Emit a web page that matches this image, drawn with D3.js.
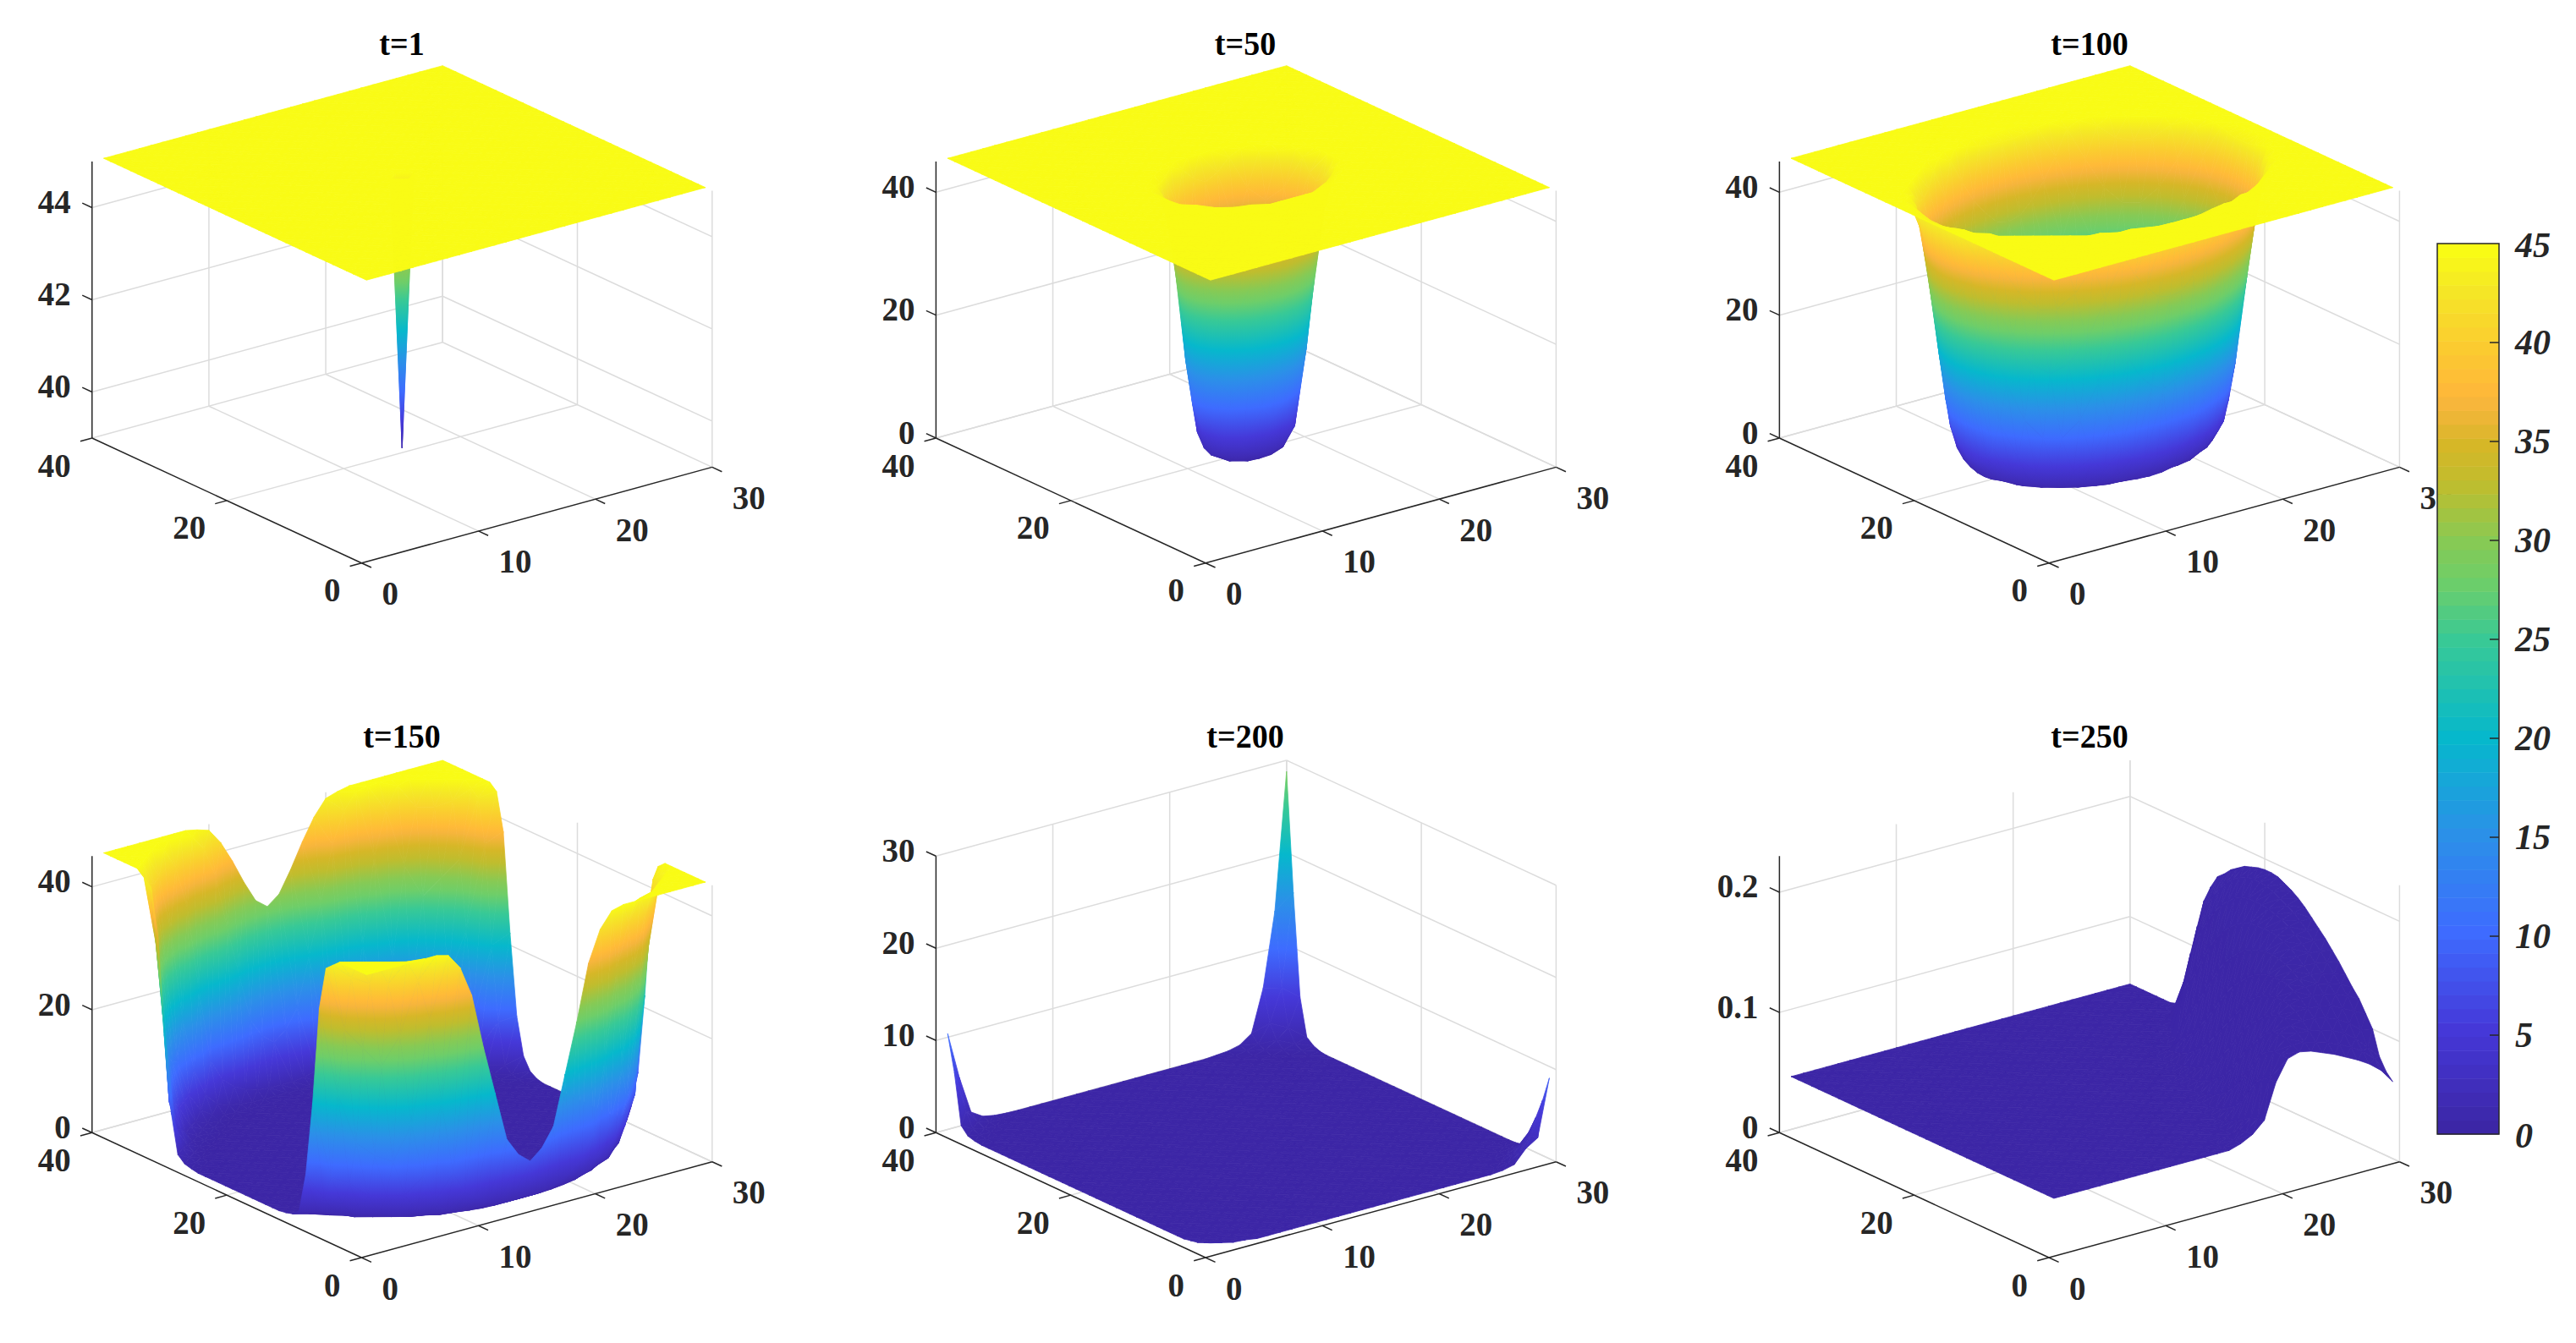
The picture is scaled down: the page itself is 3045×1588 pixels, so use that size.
<!DOCTYPE html>
<html>
<head>
<meta charset="utf-8">
<title>Surface panels</title>
<script src="https://cdn.jsdelivr.net/npm/d3@7"></script>
<style>
    html, body { margin: 0; padding: 0; background: #fff; }
    svg { display: block; }
    text { font-family: "Liberation Serif", serif; font-weight: bold; fill: #262626; }
</style>
</head>
<body>
<div id="chart"></div>
<script>
// Panels, left to right and top to bottom
const panelTitles = ["t=1", "t=50", "t=100", "t=150", "t=200", "t=250"];
const xTicks = [0, 10, 20, 30];
const yTicks = [0, 20, 40];
const zTicks = [[40, 42, 44], [0, 20, 40], [0, 20, 40], [0, 20, 40], [0, 10, 20, 30], [0, 0.1, 0.2]];
const zLimits = [[39, 45], [0, 45], [0, 45], [0, 45], [0, 30], [0, 0.23]];
const colorLimits = [[39, 45], [0, 45], [0, 45], [0, 45], [0, 45], [0, 45]];
const colorbarTicks = [0, 5, 10, 15, 20, 25, 30, 35, 40, 45];

// Grid nodes run over x = 1..30, y = 1..40
const gridX = d3.range(1, 31);
const gridY = d3.range(1, 41);

// t=1: flat sheet at 45 with one node pulled down, [x, y, z]
const t1Plateau = 45;
const t1Dips = [[15, 20, 39.1]];

// t=50, t=100, t=150: pit centred on node (15, 20), read as one quarter.
// Row = |y - 20|, column = |x - 15|, anything past the end of a row is the 45 sheet.
const t50Quarter = [
    [0.05, 0, 0.1, 1.2, 7.5, 26, 41],
    [0, 0.05, 0.2, 1.8, 9.5, 28, 42],
    [0.1, 0.2, 0.9, 3.8, 16, 33, 44],
    [1.2, 1.8, 3.8, 12, 26, 39, 44.9],
    [7.5, 9.5, 16, 26, 37, 44.5],
    [26, 28, 33, 39, 44.5],
    [41, 42, 44, 44.9]
];
const t100Quarter = [
    [0, 0, 0, 0, 0, 0, 0, 0, 0.3, 0.8, 4, 16, 31.5, 44],
    [0, 0, 0, 0, 0, 0, 0, 0, 0.3, 0.9, 4.4, 17, 32, 44],
    [0, 0, 0, 0, 0, 0, 0, 0.05, 0.4, 1.3, 5.5, 19, 34, 44.3],
    [0, 0, 0, 0, 0, 0, 0, 0.15, 0.5, 2, 7.5, 22.5, 36.5, 44.7],
    [0, 0, 0, 0, 0, 0, 0.05, 0.3, 0.8, 3.4, 12, 27, 40],
    [0, 0, 0, 0, 0, 0, 0.2, 0.55, 1.8, 6.4, 19, 33, 44],
    [0, 0, 0, 0, 0.05, 0.2, 0.5, 1.3, 4, 13, 26.5, 39, 44.9],
    [0, 0, 0.05, 0.15, 0.3, 0.55, 1.3, 3.6, 10, 22.5, 34.5, 44],
    [0.3, 0.3, 0.4, 0.5, 0.8, 1.8, 4, 10, 21, 32, 42],
    [0.8, 0.9, 1.3, 2, 3.4, 6.4, 13, 22.5, 32, 41.5],
    [4, 4.4, 5.5, 7.5, 12, 19, 26.5, 34.5, 42],
    [16, 17, 19, 22.5, 27, 33, 39, 44],
    [31.5, 32, 34, 36.5, 40, 44, 44.9],
    [44, 44, 44.3, 44.7]
];
const t150Quarter = [
    [0, 0, 0, 0, 0, 0, 0, 0, 0, 0, 0, 0, 0, 0, 0, 0],
    [0, 0, 0, 0, 0, 0, 0, 0, 0, 0, 0, 0, 0, 0, 0, 0],
    [0, 0, 0, 0, 0, 0, 0, 0, 0, 0, 0, 0, 0, 0, 0, 0],
    [0, 0, 0, 0, 0, 0, 0, 0, 0, 0, 0, 0, 0, 0, 0, 0],
    [0, 0, 0, 0, 0, 0, 0, 0, 0, 0, 0, 0, 0, 0, 0, 0],
    [0, 0, 0, 0, 0, 0, 0, 0, 0, 0, 0, 0, 0, 0, 0, 0],
    [0, 0, 0, 0, 0, 0, 0, 0, 0, 0, 0, 0, 0, 0, 0, 0.3],
    [0, 0, 0, 0, 0, 0, 0, 0, 0, 0, 0, 0, 0, 0, 0.2, 1],
    [0, 0, 0, 0, 0, 0, 0, 0, 0, 0, 0, 0, 0, 0.2, 0.5, 3],
    [0, 0, 0, 0, 0, 0, 0, 0, 0, 0, 0, 0, 0, 0.5, 1.5, 9],
    [0, 0, 0, 0, 0, 0, 0, 0, 0, 0, 0, 0, 0.3, 1.5, 8, 22],
    [0, 0, 0, 0, 0, 0, 0, 0, 0, 0, 0, 0.2, 1, 4, 20, 38],
    [0, 0, 0, 0, 0, 0, 0, 0, 0, 0, 0.2, 0.5, 3, 8, 36, 44],
    [0, 0, 0, 0, 0, 0, 0, 0, 0, 0.2, 0.5, 1.5, 7, 22, 43],
    [0, 0, 0, 0, 0, 0, 0, 0, 0.2, 0.5, 1.5, 5, 14, 33, 44],
    [0, 0, 0, 0, 0, 0, 0, 0.2, 0.5, 1.2, 5, 12, 30, 42],
    [0.1, 0.1, 0.1, 0.1, 0.1, 0.1, 0.3, 0.8, 2, 5, 11, 27, 41],
    [0.2, 0.2, 0.2, 0.3, 0.5, 0.8, 1.5, 3.5, 8, 17, 32, 41],
    [1, 1, 1.2, 1.8, 2.8, 4.5, 8, 20, 34, 41, 44.5],
    [7.4, 9, 12, 20, 28, 37, 42, 44.5],
    [29, 30.5, 34, 38, 41.5, 44, 44.6]
];

// t=200: floor at 0 with spikes in the corners, [x, y, z]
const t200Floor = 0;
const t200Nodes = [
    // back corner
    [30, 40, 28.8], [29, 40, 14], [28, 40, 6], [27, 40, 1.4], [26, 40, 0.5], [25, 40, 0.2], [24, 40, 0.1],
    [30, 39, 16], [29, 39, 6], [28, 39, 2.5], [27, 39, 0.6], [26, 39, 0.2],
    [30, 38, 5], [29, 38, 2], [28, 38, 1], [27, 38, 0.3],
    [30, 37, 1], [29, 37, 0.6], [28, 37, 0.3], [30, 36, 0.4], [29, 36, 0.2], [30, 35, 0.1],
    // left corner
    [1, 40, 10.4], [2, 40, 5.3], [3, 40, 1.2], [4, 40, 0.4], [5, 40, 0.15], [6, 40, 0.05],
    [1, 39, 6.5], [2, 39, 2], [3, 39, 0.5], [4, 39, 0.1],
    [1, 38, 1.1], [2, 38, 0.4], [3, 38, 0.1], [1, 37, 0.3], [2, 37, 0.1], [1, 36, 0.1],
    // right corner
    [30, 1, 8.75], [29, 1, 2.6], [28, 1, 1.8], [27, 1, 0.4], [26, 1, 0.1],
    [30, 2, 6], [29, 2, 2.5], [28, 2, 1], [27, 2, 0.2],
    [30, 3, 3.8], [29, 3, 1.5], [28, 3, 0.5], [30, 4, 1.9], [29, 4, 0.6], [28, 4, 0.1],
    [30, 5, 0.2], [29, 5, 0.1], [30, 6, 0.05],
    // front corner
    [1, 1, 0.9], [2, 1, 0.6], [1, 2, 0.6], [3, 1, 0.3], [1, 3, 0.3], [2, 2, 0.3], [4, 1, 0.2], [1, 4, 0.15]
];

// t=250: sheet at 0.044 with a ridge along x = 30.
// One row per y from 1 up, values right aligned so the last one is x = 30.
const t250Sheet = 0.044;
const t250Rows = [
    [0.047, 0.052, 0.061, 0.09, 0.107, 0.11, 0.108, 0.104, 0.1, 0.095, 0.09, 0.084, 0.076, 0.064],
    [0.047, 0.052, 0.06, 0.09, 0.108, 0.113, 0.113, 0.11, 0.107, 0.103, 0.098, 0.092, 0.083, 0.07],
    [0.047, 0.05, 0.058, 0.088, 0.108, 0.116, 0.118, 0.117, 0.115, 0.112, 0.107, 0.1, 0.09, 0.08],
    [0.054, 0.082, 0.105, 0.118, 0.122, 0.123, 0.122, 0.12, 0.116, 0.11, 0.102, 0.1],
    [0.05, 0.072, 0.1, 0.116, 0.125, 0.128, 0.128, 0.127, 0.125, 0.12, 0.115, 0.11],
    [0.047, 0.062, 0.09, 0.112, 0.125, 0.131, 0.133, 0.133, 0.132, 0.129, 0.125, 0.12],
    [0.045, 0.055, 0.08, 0.105, 0.122, 0.132, 0.137, 0.138, 0.138, 0.135, 0.132, 0.127],
    [0.05, 0.07, 0.098, 0.118, 0.132, 0.14, 0.142, 0.143, 0.141, 0.138, 0.135],
    [0.047, 0.062, 0.09, 0.113, 0.13, 0.141, 0.146, 0.148, 0.147, 0.145, 0.143],
    [0.045, 0.056, 0.08, 0.107, 0.128, 0.141, 0.149, 0.153, 0.153, 0.152, 0.15],
    [0.051, 0.07, 0.1, 0.124, 0.14, 0.151, 0.157, 0.158, 0.158, 0.157],
    [0.048, 0.063, 0.09, 0.118, 0.138, 0.152, 0.16, 0.163, 0.164, 0.163],
    [0.046, 0.057, 0.08, 0.11, 0.135, 0.152, 0.162, 0.167, 0.169, 0.169],
    [0.052, 0.072, 0.102, 0.13, 0.15, 0.163, 0.17, 0.174, 0.175],
    [0.049, 0.064, 0.093, 0.124, 0.148, 0.163, 0.172, 0.177, 0.18],
    [0.047, 0.058, 0.085, 0.118, 0.145, 0.163, 0.174, 0.18, 0.184],
    [0.046, 0.053, 0.076, 0.11, 0.14, 0.162, 0.175, 0.183, 0.187],
    [0.045, 0.05, 0.068, 0.1, 0.134, 0.16, 0.175, 0.185, 0.19],
    [0.048, 0.061, 0.09, 0.127, 0.156, 0.175, 0.186, 0.191],
    [0.046, 0.056, 0.08, 0.118, 0.151, 0.173, 0.186, 0.191],
    [0.045, 0.052, 0.071, 0.107, 0.145, 0.17, 0.185, 0.19],
    [0.049, 0.063, 0.095, 0.137, 0.165, 0.182, 0.188],
    [0.047, 0.057, 0.084, 0.127, 0.159, 0.178, 0.186],
    [0.046, 0.052, 0.073, 0.115, 0.151, 0.172, 0.182],
    [0.064, 0.102, 0.141, 0.165, 0.178],
    [0.046, 0.09, 0.13, 0.156, 0.172],
    [0.08, 0.117, 0.145, 0.167],
    [0.092, 0.128, 0.156],
    [0.068, 0.104, 0.142],
    [0.078, 0.118],
    [0.055, 0.093],
    [0.067],
    [0.046]
];

// Colormap
const parulaPositions = [0, 5, 10, 15, 20, 25, 28, 30, 33, 35, 37, 38, 40, 43, 45];
const parulaColors = ["#3c26a6", "#4538d8", "#3e6bff", "#2b90e8", "#06b8cc", "#38c996", "#6ece69", "#86ca55",
    "#bfbd2e", "#d6b727", "#f6b53c", "#ffba38", "#fbcb30", "#f5e726", "#f9fb15"];

// Layout, in page pixels
const pageWidth = 3045;
const pageHeight = 1588;
const panelOriginX = [427.4, 1425, 2422, 427.4, 1425, 2422];
const panelOriginY = [665.7, 665.7, 665.7, 1487, 1487, 1487];
const titleX = [475, 1472, 2470, 475, 1472, 2470];
const titleY = [52, 52, 52, 871, 871, 871];
const boxHeight = 327;
const colorLevels = 64;

// 3D box directions on the page, the view is orthographic
const xToPageX = d3.scaleLinear().domain([0, 30]).range([0, 414.4]);
const xToPageY = d3.scaleLinear().domain([0, 30]).range([0, -113.3]);
const yToPageX = d3.scaleLinear().domain([0, 40]).range([0, -318.6]);
const yToPageY = d3.scaleLinear().domain([0, 40]).range([0, -147.7]);

const parula = d3.scaleLinear()
    .domain(parulaPositions)
    .range(parulaColors)
    .interpolate(d3.interpolateRgb);
const parulaLevels = d3.range(colorLevels).map(i => parula(i / (colorLevels - 1) * 45));

/**
 * Sheet with single nodes overridden by [x, y, z] entries
 */
function heightsFromNodes(base, nodes) {
    const lookup = new Map(nodes.map(n => [n[0] + "," + n[1], n[2]]));
    return (x, y) => {
        const v = lookup.get(x + "," + y);
        return v === undefined ? base : v;
    };
}

/**
 * Pit from a quarter table, mirrored around node (15, 20)
 */
function heightsFromQuarter(rows, outside) {
    return (x, y) => {
        const row = rows[Math.abs(y - 20)];
        if (!row) return outside;
        const v = row[Math.abs(x - 15)];
        return v === undefined ? outside : v;
    };
}

/**
 * Sheet with rows given right aligned against x = 30
 */
function heightsFromRightRows(rows, base) {
    return (x, y) => {
        const row = rows[y - 1];
        if (!row) return base;
        const v = row[row.length - 1 - (30 - x)];
        return v === undefined ? base : v;
    };
}

const panelHeights = [
    heightsFromNodes(t1Plateau, t1Dips),
    heightsFromQuarter(t50Quarter, 45),
    heightsFromQuarter(t100Quarter, 45),
    heightsFromQuarter(t150Quarter, 45),
    heightsFromNodes(t200Floor, t200Nodes),
    heightsFromRightRows(t250Rows, t250Sheet)
];

const svg = d3.select("#chart").append("svg")
    .attr("width", pageWidth)
    .attr("height", pageHeight);
const defs = svg.append("defs");

const polygon = d3.line();

/**
 * Paint data for one triangle. Height is linear on a triangle, so the shading
 * is a linear gradient running along the steepest direction on the page.
 */
function paintTriangle(nodes, project, toColorPos, idPrefix, counter) {
    const pts = nodes.map(n => project(n[0], n[1], n[2]));
    const pos = nodes.map(n => toColorPos(n[2]));
    const d = polygon(pts) + "Z";
    const lo = d3.min(pos);
    const hi = d3.max(pos);
    const det = (pts[1][0] - pts[0][0]) * (pts[2][1] - pts[0][1]) - (pts[2][0] - pts[0][0]) * (pts[1][1] - pts[0][1]);
    if (hi - lo < 0.1 || Math.abs(det) < 0.01) {
        return { d: d, paint: parula(d3.mean(pos)), gradient: null };
    }
    const gx = ((pos[1] - pos[0]) * (pts[2][1] - pts[0][1]) - (pos[2] - pos[0]) * (pts[1][1] - pts[0][1])) / det;
    const gy = ((pts[1][0] - pts[0][0]) * (pos[2] - pos[0]) - (pts[2][0] - pts[0][0]) * (pos[1] - pos[0])) / det;
    const start = pts[pos.indexOf(lo)];
    const k = (hi - lo) / (gx * gx + gy * gy);
    const inside = parulaPositions.filter(p => p > lo && p < hi);
    const stops = [lo, ...inside, hi].map(p => ({ offset: (p - lo) / (hi - lo), color: parula(p) }));
    const id = idPrefix + "-" + counter.next++;
    return {
        d: d,
        paint: "url(#" + id + ")",
        gradient: { id: id, x1: start[0], y1: start[1], x2: start[0] + gx * k, y2: start[1] + gy * k, stops: stops }
    };
}

/**
 * Surface triangles in back to front order. Each cell is split along the
 * diagonal whose two ends are closest in height.
 */
function buildSurface(heightAt, project, colorLimit, idPrefix) {
    const toColorPos = d3.scaleLinear().domain(colorLimit).range([0, 45]).clamp(true);
    const counter = { next: 0 };
    const triangles = [];
    for (const y of gridY.slice(0, -1).reverse()) {
        for (const x of gridX.slice(0, -1).reverse()) {
            const a = [x, y, heightAt(x, y)];
            const b = [x + 1, y, heightAt(x + 1, y)];
            const c = [x + 1, y + 1, heightAt(x + 1, y + 1)];
            const e = [x, y + 1, heightAt(x, y + 1)];
            const parts = Math.abs(b[2] - e[2]) <= Math.abs(a[2] - c[2])
                ? [[b, c, e], [a, b, e]]
                : [[a, c, e], [a, b, c]];
            parts.forEach(nodes => triangles.push(paintTriangle(nodes, project, toColorPos, idPrefix, counter)));
        }
    }
    return triangles;
}

// Reference glyphs are a little narrower than the font, so labels get a small squeeze
function squeezedAt(x, y) {
    return "translate(" + x + "," + y + ") scale(0.95,1)";
}

/**
 * One panel: back grid, surface, then the dark axes and labels
 */
function drawPanel(index) {
    const zLimit = zLimits[index];
    const zBottom = zLimit[0];
    const zTop = zLimit[1];
    const zToPage = d3.scaleLinear().domain(zLimit).range([0, -boxHeight]);
    const ox = panelOriginX[index];
    const oy = panelOriginY[index];
    const project = (x, y, z) => [
        ox + xToPageX(x) + yToPageX(y),
        oy + xToPageY(x) + yToPageY(y) + zToPage(z)
    ];

    const g = svg.append("g").attr("class", "panel");

    // Gridlines on the floor and the two back walls
    const gridLines = [];
    xTicks.slice(1).forEach(x => gridLines.push([[x, 0, zBottom], [x, 40, zBottom]]));
    yTicks.slice(1).forEach(y => gridLines.push([[0, y, zBottom], [30, y, zBottom]]));
    xTicks.slice(1).forEach(x => gridLines.push([[x, 40, zBottom], [x, 40, zTop]]));
    yTicks.forEach(y => gridLines.push([[30, y, zBottom], [30, y, zTop]]));
    zTicks[index].forEach(z => {
        gridLines.push([[0, 40, z], [30, 40, z]]);
        gridLines.push([[30, 40, z], [30, 0, z]]);
    });
    g.append("g").selectAll("line")
        .data(gridLines)
        .join("line")
        .attr("x1", d => project(...d[0])[0])
        .attr("y1", d => project(...d[0])[1])
        .attr("x2", d => project(...d[1])[0])
        .attr("y2", d => project(...d[1])[1])
        .attr("stroke", "#dcdcdc")
        .attr("stroke-width", 1.5);

    // Surface
    const triangles = buildSurface(panelHeights[index], project, colorLimits[index], "surface" + index);
    const gradients = defs.selectAll(null)
        .data(triangles.filter(t => t.gradient).map(t => t.gradient))
        .join("linearGradient")
        .attr("id", d => d.id)
        .attr("gradientUnits", "userSpaceOnUse")
        .attr("x1", d => d.x1)
        .attr("y1", d => d.y1)
        .attr("x2", d => d.x2)
        .attr("y2", d => d.y2);
    gradients.selectAll("stop")
        .data(d => d.stops)
        .join("stop")
        .attr("offset", d => d.offset)
        .attr("stop-color", d => d.color);
    g.append("g").selectAll("path")
        .data(triangles)
        .join("path")
        .attr("d", d => d.d)
        .attr("fill", d => d.paint)
        .attr("stroke", d => d.paint)
        .attr("stroke-width", 0.8)
        .attr("stroke-linejoin", "round");

    // Axes and tick marks
    const axisLines = [
        [[0, 0, zBottom], [30, 0, zBottom]],
        [[0, 0, zBottom], [0, 40, zBottom]],
        [[0, 40, zBottom], [0, 40, zTop]]
    ];
    xTicks.forEach(x => axisLines.push([[x, 0, zBottom], [x, -1.45, zBottom]]));
    yTicks.forEach(y => axisLines.push([[0, y, zBottom], [-1, y, zBottom]]));
    zTicks[index].forEach(z => axisLines.push([[0, 40, z], [0, 41.45, z]]));
    g.append("g").selectAll("line")
        .data(axisLines)
        .join("line")
        .attr("x1", d => project(...d[0])[0])
        .attr("y1", d => project(...d[0])[1])
        .attr("x2", d => project(...d[1])[0])
        .attr("y2", d => project(...d[1])[1])
        .attr("stroke", "#262626")
        .attr("stroke-width", 1.5);

    // Tick labels
    const labels = g.append("g").attr("font-size", 41);
    labels.selectAll(".x-label")
        .data(xTicks)
        .join("text")
        .attr("class", "x-label")
        .attr("transform", d => squeezedAt(project(d, 0, zBottom)[0] + 24, project(d, 0, zBottom)[1] + 36))
        .attr("dy", "0.33em")
        .text(d => d);
    labels.selectAll(".y-label")
        .data(yTicks)
        .join("text")
        .attr("class", "y-label")
        .attr("text-anchor", "end")
        .attr("transform", d => squeezedAt(project(0, d, zBottom)[0] - 25, project(0, d, zBottom)[1] + 32))
        .attr("dy", "0.33em")
        .text(d => d);
    labels.selectAll(".z-label")
        .data(zTicks[index])
        .join("text")
        .attr("class", "z-label")
        .attr("text-anchor", "end")
        .attr("transform", d => squeezedAt(project(0, 40, d)[0] - 25, project(0, 40, d)[1] - 7))
        .attr("dy", "0.33em")
        .text(d => d);

    g.append("text")
        .attr("transform", squeezedAt(titleX[index], titleY[index]))
        .attr("dy", "0.33em")
        .attr("text-anchor", "middle")
        .attr("font-size", 40)
        .style("fill", "#000")
        .text(panelTitles[index]);
}

/**
 * Shared colorbar on the right, painted last since it sits over a tick label
 */
function drawColorbar() {
    const barLeft = 2881;
    const barRight = 2954;
    const valueToY = d3.scaleLinear().domain([0, 45]).range([1341, 288]);
    const g = svg.append("g").attr("class", "colorbar");

    g.selectAll("rect.level")
        .data(parulaLevels)
        .join("rect")
        .attr("class", "level")
        .attr("x", barLeft)
        .attr("width", barRight - barLeft)
        .attr("y", (d, i) => valueToY((i + 1) / colorLevels * 45))
        .attr("height", (valueToY(0) - valueToY(45)) / colorLevels + 0.5)
        .attr("fill", d => d);

    g.append("rect")
        .attr("x", barLeft)
        .attr("y", valueToY(45))
        .attr("width", barRight - barLeft)
        .attr("height", valueToY(0) - valueToY(45))
        .attr("fill", "none")
        .attr("stroke", "#262626")
        .attr("stroke-width", 1.5);

    g.selectAll("line")
        .data(colorbarTicks.slice(1, -1))
        .join("line")
        .attr("x1", barRight - 11)
        .attr("x2", barRight)
        .attr("y1", d => valueToY(d))
        .attr("y2", d => valueToY(d))
        .attr("stroke", "#262626")
        .attr("stroke-width", 1.5);

    g.selectAll("text")
        .data(colorbarTicks)
        .join("text")
        .attr("x", 2973)
        .attr("y", d => valueToY(d) + (d === 45 ? 2 : d === 0 ? 2 : 0))
        .attr("dy", "0.33em")
        .attr("font-size", 42)
        .attr("font-style", "italic")
        .text(d => d);
}

panelTitles.forEach((title, i) => drawPanel(i));
drawColorbar();
</script>
</body>
</html>
